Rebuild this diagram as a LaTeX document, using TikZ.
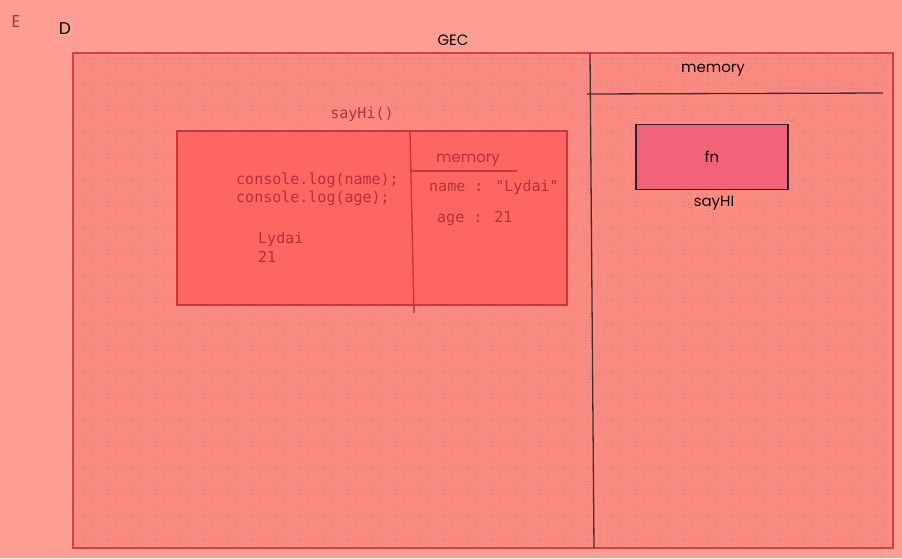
\documentclass[tikz,border=0pt]{standalone}
\usepackage{fontspec}
\setmainfont{Liberation Sans}
\newfontfamily\handfont{Poppins}
\newfontfamily\codefont{DejaVu Sans Mono}
\usetikzlibrary{patterns}
\definecolor{bgc}{HTML}{FF9E93}
\definecolor{gecfill}{HTML}{FF7A73}
\definecolor{gecedge}{HTML}{D63F45}
\definecolor{innerfill}{HTML}{FF6662}
\definecolor{inneredge}{HTML}{C9363B}
\definecolor{fnfill}{HTML}{F2637A}
\definecolor{codec}{HTML}{B5303A}
\definecolor{hatchc}{HTML}{FF9A90}
\tikzset{
  hand/.style={font=\handfont\fontsize{15}{17}\selectfont, text=black, inner sep=0pt},
  code/.style={font=\codefont\fontsize{15}{17}\selectfont, text=codec, inner sep=0pt, align=left},
  frame/.style={line width=1.4pt},
}
\begin{document}
\begin{tikzpicture}[x=1pt,y=-1pt]
\fill[bgc] (0,0) rectangle (902,558);
\useasboundingbox (0,0) rectangle (902,558);
% GEC box
\fill[gecfill] (73,53) rectangle (893,548);
\fill[pattern=crosshatch, pattern color=hatchc] (73,53) rectangle (893,548);
\draw[gecedge, frame] (73,53) rectangle (893,548);
\node[hand] (gec) at (453,40) {GEC};
% divider and memory header
\coordinate (dtop) at (590,53);
\coordinate (dbot) at (594,548);
\draw[black!80, line width=1.3pt] (dtop) -- (dbot);
\coordinate (hl) at (587,94);
\coordinate (hr) at (883,93);
\draw[black!80, line width=1.3pt] (hl) -- (hr);
\node[hand] (mem) at (713,70) {memory};
% fn box
\node[draw=black!85, line width=1.4pt, fill=fnfill, minimum width=152pt, minimum height=65pt, inner sep=0pt] (fn) at (712,157) {};
\node[hand] (fnt) at (fn.center) {fn};
\node[hand] (sayhi) at (714,203) {sayHI};
% execution context
\node[code] (sayhic) at (362,114) {sayHi()};
\node[draw=inneredge, line width=1.4pt, fill=innerfill, minimum width=390pt, minimum height=174pt, inner sep=0pt] (ec) at (372,218) {};
\coordinate (vt) at (410,131);
\coordinate (vb) at (414,313);
\draw[inneredge, line width=1.4pt] (vt) -- (vb);
\node[hand, text=codec] (mem2) at (468,160) {memory};
\coordinate (ul) at (411,171);
\coordinate (ur) at (517,171);
\draw[inneredge, line width=1.4pt] (ul) -- (ur);
\node[code, anchor=west] (c1) at (236,180) {console.log(name);};
\node[code, anchor=west] (c2) at (236,198) {console.log(age);};
\node[code, anchor=west] (o1) at (258,239) {Lydai};
\node[code, anchor=west] (o2) at (258,257) {21};
\node[code, anchor=west] (m1) at (429,187) {name : "Lydai"};
\node[code, anchor=west] (m2) at (437,219) {age : 21};
% corner letters
\node[hand, text=codec, font=\handfont\fontsize{17}{19}\selectfont] (e) at (16,22) {E};
\node[hand, font=\handfont\fontsize{17}{19}\selectfont] (d) at (65,29) {D};
\end{tikzpicture}
\end{document}
